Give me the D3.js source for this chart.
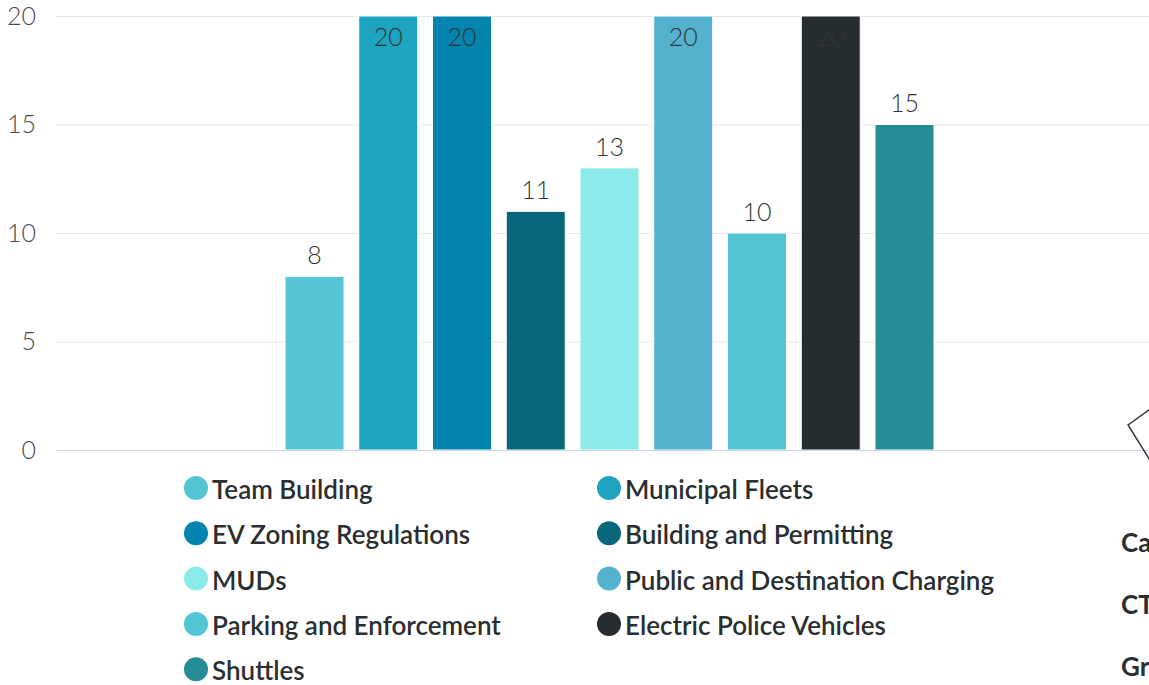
<!DOCTYPE html>
<html lang="en">
  <head>
    <meta charset="UTF-8" />
    <title>Column chart with D3.js</title>
    <script src="https://d3js.org/d3.v7.min.js"></script>
    <style>
      body { margin: 0; background: #fff; overflow: hidden; }
      text { font-family: Lato, "Open Sans", sans-serif; }
    </style>
  </head>
  <body>
    <svg width="1149" height="685"></svg>
    <script>
      // Data
      const seriesNames = [
        "Team Building",
        "Municipal Fleets",
        "EV Zoning Regulations",
        "Building and Permitting",
        "MUDs",
        "Public and Destination Charging",
        "Parking and Enforcement",
        "Electric Police Vehicles",
        "Shuttles",
      ];
      const seriesValues = [8, 20, 20, 11, 13, 20, 10, 20, 15];
      const seriesColors = [
        "#55c5d3", "#1ea3c0", "#0384ae", "#09677c", "#8deaea",
        "#55b2cf", "#52c6d3", "#262d30", "#268d97",
      ];
      const yTicks = [0, 5, 10, 15, 20];
      const sideLabels = ["Ca", "CT", "Gr"];

      const svg = d3.select("svg");

      // Scales
      const y = d3.scaleLinear().domain([0, 20]).range([450, 16]);
      const x = d3.scaleBand()
        .domain(seriesNames)
        .range([285, 934])
        .paddingInner(0.2)
        .paddingOuter(0);

      // Gridlines
      svg.append("g")
        .selectAll("line")
        .data(yTicks.filter((d) => d > 0))
        .enter()
        .append("line")
        .attr("x1", 56)
        .attr("x2", 1149)
        .attr("y1", (d) => y(d) + 0.5)
        .attr("y2", (d) => y(d) + 0.5)
        .style("stroke", "#e6e6e6")
        .style("stroke-width", 1);

      // Y tick labels
      svg.append("g")
        .selectAll("text")
        .data(yTicks)
        .enter()
        .append("text")
        .attr("x", 36)
        .attr("y", (d) => y(d))
        .attr("dy", "0.35em")
        .attr("text-anchor", "end")
        .style("font-size", "25px")
        .style("font-weight", 300)
        .style("fill", "#4a4a4a")
        .text((d) => d);

      // Bars
      svg.append("g")
        .selectAll("rect")
        .data(seriesValues)
        .enter()
        .append("rect")
        .attr("x", (d, i) => x(seriesNames[i]))
        .attr("y", (d) => y(d))
        .attr("width", x.bandwidth())
        .attr("height", (d) => y(0) - y(d))
        .style("fill", (d, i) => seriesColors[i])
        .style("stroke", "#ffffff")
        .style("stroke-width", 1);

      // Baseline
      svg.append("line")
        .attr("x1", 56)
        .attr("x2", 1149)
        .attr("y1", y(0) + 0.5)
        .attr("y2", y(0) + 0.5)
        .style("stroke", "#ccd6eb")
        .style("stroke-width", 1);

      // Data labels (inside the top for bars that hit the max)
      svg.append("g")
        .selectAll("text")
        .data(seriesValues)
        .enter()
        .append("text")
        .attr("x", (d, i) => x(seriesNames[i]) + x.bandwidth() / 2)
        .attr("y", (d) => (d >= 20 ? y(d) + 21 : y(d) - 21))
        .attr("dy", "0.35em")
        .attr("text-anchor", "middle")
        .style("font-size", "25px")
        .style("font-weight", 300)
        .style("fill", "#333")
        .text((d) => d);

      // Legend
      const legend = svg.append("g")
        .selectAll("g")
        .data(seriesNames)
        .enter()
        .append("g")
        .attr("transform", (d, i) =>
          `translate(${i % 2 === 0 ? 196 : 609},${490 + Math.floor(i / 2) * 45.3})`);

      legend.append("circle")
        .attr("r", 12)
        .attr("cy", -2)
        .style("fill", (d, i) => seriesColors[i]);

      legend.append("text")
        .attr("x", 16)
        .attr("dy", "0.35em")
        .style("font-size", "26px")
        .style("font-weight", 600)
        .style("fill", "#2b2f31")
        .text((d) => d);

      // Cut-off neighbour chart on the right edge
      svg.append("path")
        .attr("d", "M1128,425 L1160,402 L1185,440 L1153,465 Z")
        .style("fill", "none")
        .style("stroke", "#333")
        .style("stroke-width", 1.5);

      svg.append("g")
        .selectAll("text")
        .data(sideLabels)
        .enter()
        .append("text")
        .attr("x", 1121)
        .attr("y", (d, i) => 543 + i * 62)
        .attr("dy", "0.35em")
        .style("font-size", "26px")
        .style("font-weight", 700)
        .style("fill", "#2b2f31")
        .text((d) => d);
    </script>
  </body>
</html>
